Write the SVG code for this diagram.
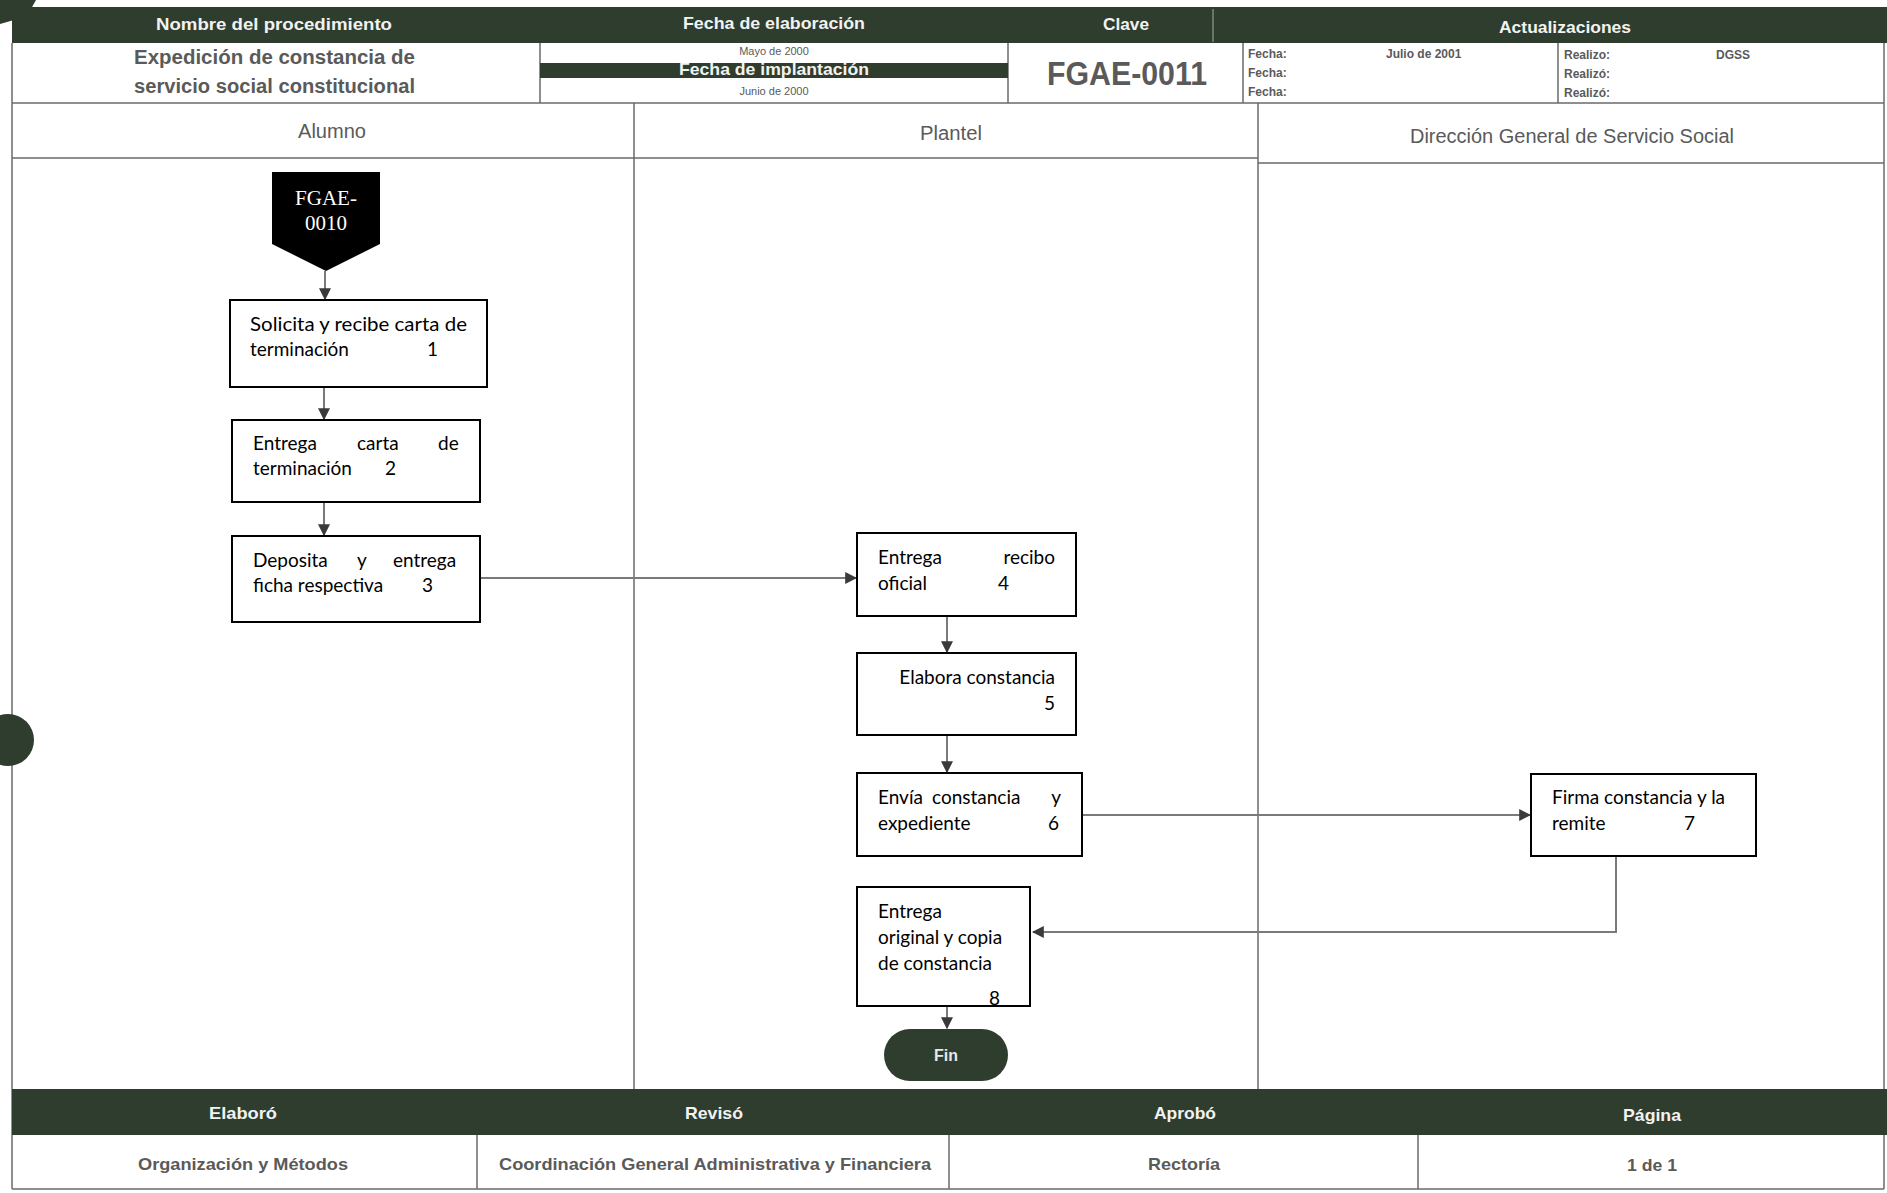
<svg xmlns="http://www.w3.org/2000/svg" width="1887" height="1193" viewBox="0 0 1887 1193">
<defs>
<style>
.bar{fill:#2f3d2e}
.grid{stroke:#6a6a6a;stroke-width:1.5;fill:none}
.hd{font-family:"Liberation Sans",Arial,sans-serif;font-weight:bold;fill:#f2f2f2;font-size:17px;text-anchor:middle}
.gt{font-family:"Liberation Sans",Arial,sans-serif;fill:#5a5a5a}
.box{fill:#fff;stroke:#000;stroke-width:2}
.bt{font-family:Lato,"Liberation Sans",sans-serif;font-size:19px;fill:#000}
.conn{stroke:#7a7a7a;stroke-width:2;fill:none}
</style>
<marker id="ah" viewBox="0 0 10 10" refX="9" refY="5" markerWidth="6" markerHeight="6" orient="auto" markerUnits="strokeWidth">
<path d="M0,0 L10,5 L0,10 z" fill="#3a3a3a"/>
</marker>
</defs>
<rect width="1887" height="1193" fill="#fff"/>

<!-- header -->
<g id="header">
<rect class="bar" x="12" y="7" width="1875" height="36"/>
<path d="M0,0 L36,0 Q30,14 14,20 L0,24 z" fill="#2f3d2e"/>
<line x1="1213" y1="9" x2="1213" y2="42" stroke="#7d8a7c" stroke-width="1.5"/>
<text class="hd" x="274" y="30" textLength="236" lengthAdjust="spacingAndGlyphs">Nombre del procedimiento</text>
<text class="hd" x="774" y="29" textLength="182" lengthAdjust="spacingAndGlyphs">Fecha de elaboración</text>
<text class="hd" x="1126" y="30" textLength="46" lengthAdjust="spacingAndGlyphs">Clave</text>
<text class="hd" x="1565" y="33" textLength="132" lengthAdjust="spacingAndGlyphs">Actualizaciones</text>
<line class="grid" x1="12" y1="43" x2="12" y2="1189"/>
<line class="grid" x1="1884" y1="43" x2="1884" y2="1189"/>
<line class="grid" x1="540" y1="43" x2="540" y2="103"/>
<line class="grid" x1="1008" y1="43" x2="1008" y2="103"/>
<line class="grid" x1="1243" y1="43" x2="1243" y2="103"/>
<line class="grid" x1="1558" y1="43" x2="1558" y2="103"/>
<line class="grid" x1="12" y1="103" x2="1884" y2="103"/>
<text class="gt" x="134" y="64" font-size="20" font-weight="bold" textLength="281" lengthAdjust="spacingAndGlyphs">Expedición de constancia de</text>
<text class="gt" x="134" y="93" font-size="20" font-weight="bold" textLength="281" lengthAdjust="spacingAndGlyphs">servicio social constitucional</text>
<text class="gt" x="774" y="55" font-size="11" text-anchor="middle" fill="#8a8a8a">Mayo de 2000</text>
<rect class="bar" x="540" y="63" width="468" height="15"/>
<text class="hd" x="774" y="75" font-size="14" textLength="190" lengthAdjust="spacingAndGlyphs">Fecha de implantación</text>
<text class="gt" x="774" y="95" font-size="11" text-anchor="middle" fill="#8a8a8a">Junio de 2000</text>
<text class="gt" x="1127" y="85" font-size="33" font-weight="bold" text-anchor="middle" fill="#333" textLength="160" lengthAdjust="spacingAndGlyphs">FGAE-0011</text>
<g class="gt" font-size="12" font-weight="bold" fill="#666">
<text x="1248" y="58">Fecha:</text>
<text x="1248" y="77">Fecha:</text>
<text x="1248" y="96">Fecha:</text>
<text x="1386" y="58">Julio de 2001</text>
<text x="1564" y="59">Realizo:</text>
<text x="1564" y="78">Realizó:</text>
<text x="1564" y="97">Realizó:</text>
<text x="1716" y="59">DGSS</text>
</g>
</g>

<!-- lanes -->
<g id="lanes">
<line class="grid" x1="634" y1="103" x2="634" y2="1089"/>
<line class="grid" x1="1258" y1="103" x2="1258" y2="1089"/>
<line class="grid" x1="12" y1="158" x2="1258" y2="158"/>
<line class="grid" x1="1258" y1="163" x2="1884" y2="163"/>
<text class="gt" x="332" y="138" font-size="20" text-anchor="middle" fill="#777" textLength="68" lengthAdjust="spacingAndGlyphs">Alumno</text>
<text class="gt" x="951" y="140" font-size="20" text-anchor="middle" fill="#777" textLength="62" lengthAdjust="spacingAndGlyphs">Plantel</text>
<text class="gt" x="1572" y="143" font-size="20" text-anchor="middle" fill="#777" textLength="324" lengthAdjust="spacingAndGlyphs">Dirección General de Servicio Social</text>
<circle cx="8" cy="740" r="26" fill="#2f3d2e"/>
</g>

<!-- connectors -->
<g id="connectors">
<line class="conn" x1="325" y1="271" x2="325" y2="299" marker-end="url(#ah)"/>
<line class="conn" x1="324" y1="387" x2="324" y2="419" marker-end="url(#ah)"/>
<line class="conn" x1="324" y1="502" x2="324" y2="535" marker-end="url(#ah)"/>
<line class="conn" x1="480" y1="578" x2="856" y2="578" marker-end="url(#ah)"/>
<line class="conn" x1="947" y1="616" x2="947" y2="652" marker-end="url(#ah)"/>
<line class="conn" x1="947" y1="735" x2="947" y2="772" marker-end="url(#ah)"/>
<line class="conn" x1="1082" y1="815" x2="1530" y2="815" marker-end="url(#ah)"/>
<polyline class="conn" points="1616,856 1616,932 1033,932" marker-end="url(#ah)"/>
<line class="conn" x1="947" y1="1006" x2="947" y2="1028" marker-end="url(#ah)"/>
</g>

<!-- nodes -->
<g id="n0">
<path d="M272,172 H380 V244 L326,271 L272,244 Z" fill="#000"/>
<text x="326" y="205" font-family="'Liberation Serif',serif" font-size="21" fill="#fff" text-anchor="middle">FGAE-</text>
<text x="326" y="230" font-family="'Liberation Serif',serif" font-size="21" fill="#fff" text-anchor="middle">0010</text>
</g>
<g id="n1">
<rect class="box" x="230" y="300" width="257" height="87"/>
<text class="bt" x="250" y="331" textLength="217" lengthAdjust="spacingAndGlyphs">Solicita y recibe carta de</text>
<text class="bt" x="250" y="356">terminación</text>
<text class="bt" x="427" y="356">1</text>
</g>
<g id="n2">
<rect class="box" x="232" y="420" width="248" height="82"/>
<text class="bt" x="253" y="450">Entrega</text>
<text class="bt" x="357" y="450">carta</text>
<text class="bt" x="438" y="450">de</text>
<text class="bt" x="253" y="475">terminación</text>
<text class="bt" x="385" y="475">2</text>
</g>
<g id="n3">
<rect class="box" x="232" y="536" width="248" height="86"/>
<text class="bt" x="253" y="567">Deposita</text>
<text class="bt" x="357" y="567">y</text>
<text class="bt" x="393" y="567">entrega</text>
<text class="bt" x="253" y="592">ficha respectiva</text>
<text class="bt" x="422" y="592">3</text>
</g>
<g id="n4">
<rect class="box" x="857" y="533" width="219" height="83"/>
<text class="bt" x="878" y="564">Entrega</text>
<text class="bt" x="1055" y="564" text-anchor="end">recibo</text>
<text class="bt" x="878" y="590">oficial</text>
<text class="bt" x="998" y="590">4</text>
</g>
<g id="n5">
<rect class="box" x="857" y="653" width="219" height="82"/>
<text class="bt" x="1055" y="684" text-anchor="end">Elabora constancia</text>
<text class="bt" x="1055" y="710" text-anchor="end">5</text>
</g>
<g id="n6">
<rect class="box" x="857" y="773" width="225" height="83"/>
<text class="bt" x="878" y="804">Envía</text>
<text class="bt" x="932" y="804">constancia</text>
<text class="bt" x="1061" y="804" text-anchor="end">y</text>
<text class="bt" x="878" y="830">expediente</text>
<text class="bt" x="1048" y="830">6</text>
</g>
<g id="n7">
<rect class="box" x="1531" y="774" width="225" height="82"/>
<text class="bt" x="1552" y="804">Firma constancia y la</text>
<text class="bt" x="1552" y="830">remite</text>
<text class="bt" x="1684" y="830">7</text>
</g>
<g id="n8">
<rect class="box" x="857" y="887" width="173" height="119"/>
<text class="bt" x="878" y="918">Entrega</text>
<text class="bt" x="878" y="944">original y copia</text>
<text class="bt" x="878" y="970">de constancia</text>
<text class="bt" x="989" y="1005">8</text>
<rect x="980" y="1007" width="24" height="14" fill="#fff"/>
<line x1="857" y1="1006" x2="1030" y2="1006" stroke="#000" stroke-width="2"/>
</g>
<g id="n9">
<rect x="884" y="1029" width="124" height="52" rx="26" fill="#2f3d2e"/>
<text x="946" y="1061" font-family="'Liberation Sans',Arial,sans-serif" font-size="16" font-weight="bold" fill="#e8e8e8" text-anchor="middle">Fin</text>
</g>

<!-- footer -->
<g id="footer">
<rect class="bar" x="12" y="1089" width="1875" height="46"/>
<text class="hd" x="243" y="1119" textLength="68" lengthAdjust="spacingAndGlyphs">Elaboró</text>
<text class="hd" x="714" y="1119" textLength="58" lengthAdjust="spacingAndGlyphs">Revisó</text>
<text class="hd" x="1185" y="1119" textLength="62" lengthAdjust="spacingAndGlyphs">Aprobó</text>
<text class="hd" x="1652" y="1121" textLength="58" lengthAdjust="spacingAndGlyphs">Página</text>
<line class="grid" x1="477" y1="1135" x2="477" y2="1189"/>
<line class="grid" x1="949" y1="1135" x2="949" y2="1189"/>
<line class="grid" x1="1418" y1="1135" x2="1418" y2="1189"/>
<line class="grid" x1="12" y1="1189" x2="1884" y2="1189"/>
<g class="gt" font-size="17" font-weight="bold" text-anchor="middle" fill="#666">
<text x="243" y="1170" textLength="210" lengthAdjust="spacingAndGlyphs">Organización y Métodos</text>
<text x="715" y="1170" textLength="432" lengthAdjust="spacingAndGlyphs">Coordinación General Administrativa y Financiera</text>
<text x="1184" y="1170" textLength="72" lengthAdjust="spacingAndGlyphs">Rectoría</text>
<text x="1652" y="1171" textLength="50" lengthAdjust="spacingAndGlyphs">1 de 1</text>
</g>
</g>
</svg>
